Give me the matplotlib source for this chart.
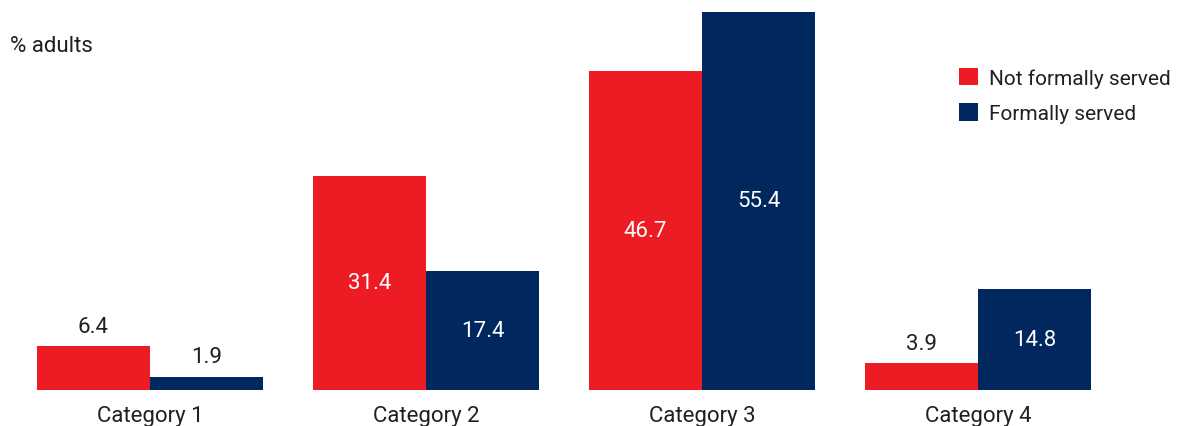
import matplotlib
matplotlib.use("Agg")
import matplotlib.pyplot as plt
import numpy as np
from matplotlib import font_manager

categories = ["Category 1", "Category 2", "Category 3", "Category 4"]
not_served = [6.4, 31.4, 46.7, 3.9]
served = [1.9, 17.4, 55.4, 14.8]
series_names = ["Not formally served", "Formally served"]

RED = "#ED1C24"
NAVY = "#00285E"
TEXT = "#231F20"
FS = 16

names = {f.name for f in font_manager.fontManager.ttflist}
family = ["Liberation Sans Narrow", "DejaVu Sans"] if "Liberation Sans Narrow" in names else ["Roboto", "DejaVu Sans"]
plt.rcParams["font.family"] = family

fig = plt.figure(figsize=(11.85, 4.27), dpi=100)
ax = fig.add_axes([0, 36 / 427, 1, 391 / 427])

x = np.arange(len(categories))
w = 0.411
b1 = ax.bar(x - w / 2, not_served, w, color=RED, label=series_names[0])
b2 = ax.bar(x + w / 2, served, w, color=NAVY, label=series_names[1])

ax.set_xlim(-150 / 276, (1185 - 150) / 276)
ax.set_ylim(0, 57.3)

inside_min = 10
for bars, vals in ((b1, not_served), (b2, served)):
    for r, v in zip(bars, vals):
        cx = r.get_x() + r.get_width() / 2
        if v >= inside_min:
            ax.text(cx, v / 2, f"{v:.1f}", ha="center", va="center",
                    color="white", fontsize=FS)
        else:
            ax.annotate(f"{v:.1f}", (cx, v), xytext=(0, 7), textcoords="offset points",
                        ha="center", va="bottom", color=TEXT, fontsize=FS)

ax.set_xticks(x)
ax.set_xticklabels(categories, fontsize=FS, color=TEXT)
ax.tick_params(axis="x", length=0, pad=11)
ax.set_yticks([])
for s in ax.spines.values():
    s.set_visible(False)

fig.text(10 / 1185, 1 - 46 / 427, "% adults", ha="left", va="center",
         fontsize=FS, color=TEXT)

leg = ax.legend(loc="upper left", bbox_to_anchor=(959 / 1185, 1 - 69 / 427),
                bbox_transform=fig.transFigure, frameon=False, fontsize=15,
                handlelength=0.9, handleheight=0.9, handletextpad=0.55,
                labelspacing=0.75, borderaxespad=0, borderpad=0)
for t in leg.get_texts():
    t.set_color(TEXT)

fig.savefig("out.png", dpi=100)
